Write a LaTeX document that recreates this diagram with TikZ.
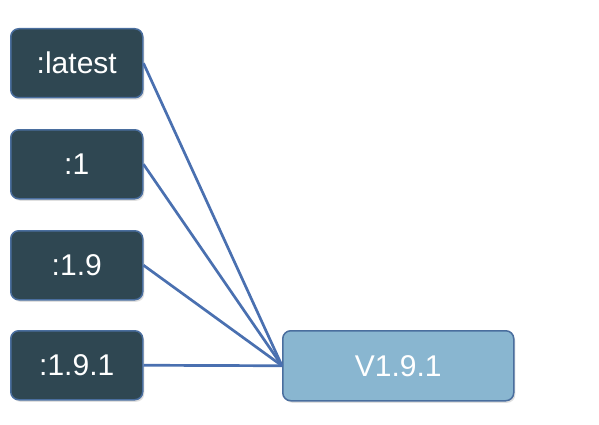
\documentclass[tikz,border=0pt]{standalone}
\usepackage{fontspec}
\setmainfont{Liberation Sans}
\usetikzlibrary{shadows}
\definecolor{darkbox}{HTML}{2F4752}
\definecolor{boxedge}{HTML}{4A6E9E}
\definecolor{lightbox}{HTML}{89B6D0}
\definecolor{linkcol}{HTML}{4A70B0}
\tikzset{
  tagbox/.style={draw=boxedge, line width=1.5pt, fill=darkbox, rounded corners=8pt,
    minimum width=132pt, minimum height=69pt, inner sep=0pt, text=white,
    font=\fontsize{30}{30}\selectfont, anchor=north west,
    drop shadow={shadow xshift=1.5pt, shadow yshift=-2pt, fill=black!25, opacity=0.5}},
  verbox/.style={tagbox, fill=lightbox, minimum width=231pt, minimum height=70pt},
  link/.style={draw=linkcol, line width=2.7pt}
}
\begin{document}
\begin{tikzpicture}[x=1pt,y=-1pt]
\useasboundingbox (0,0) rectangle (599,425);
\node[tagbox] (latest) at (10,28) {:latest};
\node[tagbox] (one) at (10,129) {:1};
\node[tagbox] (onenine) at (10,230) {:1.9};
\node[tagbox] (onenineone) at (10,330) {:1.9.1};
\node[verbox] (ver) at (282,330) {V1.9.1};
\draw[link] (latest.east) -- (ver.west);
\draw[link] (one.east) -- (ver.west);
\draw[link] (onenine.east) -- (ver.west);
\draw[link] (onenineone.east) -- (ver.west);
\end{tikzpicture}
\end{document}
